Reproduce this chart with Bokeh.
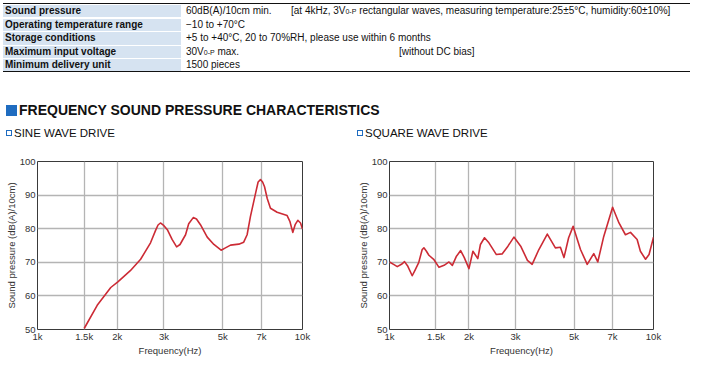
from bokeh.plotting import figure
from bokeh.models import Div, FixedTicker, Range1d, Label
from bokeh.layouts import column, row
from bokeh.embed import file_html
from bokeh.resources import INLINE

# ---------------- data ----------------
table_labels = ["Sound pressure", "Operating temperature range", "Storage conditions",
                "Maximum input voltage", "Minimum delivery unit"]
table_values = ["60dB(A)/10cm min.", "\u221210 to +70\u00b0C",
                "+5 to +40\u00b0C, 20 to 70%RH, please use within 6 months",
                "30V<span style='font-size:7px'>0-P</span> max.", "1500 pieces"]
table_notes = ["[at 4kHz, 3V<span style='font-size:7px'>0-P</span> rectangular waves, measuring temperature:25\u00b15\u00b0C, humidity:60\u00b110%]",
               "", "", "[without DC bias]", ""]

freq_ticks = [1000, 1500, 2000, 3000, 5000, 7000, 10000]
freq_tick_labels = ["1k", "1.5k", "2k", "3k", "5k", "7k", "10k"]
spl_ticks = [50, 60, 70, 80, 90, 100]

sine_freq = [1500, 1680, 1890, 2010, 2240, 2450, 2670, 2790, 2850, 2910, 3000, 3090, 3220, 3350,
             3450, 3620, 3720, 3870, 3980, 4120, 4370, 4630, 4930, 5120, 5350, 5750, 6000, 6180,
             6360, 6650, 6800, 6940, 7070, 7190, 7360, 7570, 8020, 8750, 8960, 9190, 9380, 9600,
             9830, 10000]
sine_spl = [50.3, 57.2, 62.5, 64.2, 67.5, 70.9, 75.8, 79.5, 81.1, 81.7, 80.9, 79.7, 76.8, 74.6,
            75.3, 78.2, 81.5, 83.3, 82.9, 81.2, 77.5, 75.3, 73.6, 74.3, 75.1, 75.4, 76.0, 78.2,
            83.6, 90.5, 93.9, 94.6, 93.9, 92.5, 89.0, 86.1, 84.9, 83.9, 82.2, 78.9, 81.2, 82.5,
            81.7, 79.9]

square_freq = [1000, 1040, 1070, 1110, 1140, 1170, 1219, 1250, 1290, 1330, 1350, 1380, 1410,
               1470, 1540, 1610, 1680, 1730, 1790, 1860, 1920, 2000, 2070, 2160, 2210, 2290,
               2380, 2540, 2670, 2810, 2960, 3140, 3330, 3470, 3680, 3960, 4250, 4440, 4580,
               4770, 4960, 5290, 5610, 5940, 6150, 6480, 7000, 7400, 7830, 8180, 8670, 8920,
               9330, 9620, 10000]
square_spl = [70.1, 69.3, 68.7, 69.4, 70.2, 69.0, 66.0, 67.7, 69.9, 73.8, 74.3, 73.3, 72.1,
              70.9, 68.5, 69.1, 70.1, 69.1, 71.7, 73.5, 71.4, 68.1, 73.3, 71.1, 75.3, 77.3,
              75.8, 72.3, 72.5, 74.8, 77.5, 74.8, 70.6, 69.4, 73.8, 78.4, 74.3, 74.5, 71.4,
              77.3, 80.7, 73.8, 69.4, 72.6, 70.1, 77.7, 86.4, 81.7, 78.2, 78.9, 76.8, 73.3,
              70.9, 72.3, 77.5]

FONT = "Liberation Sans"
BLUE = "#1f6cc0"

# ---------------- header / table (HTML) ----------------
ROW_H = 13.6
T0 = 4.0
parts = []
parts.append(f"<div style='position:relative;width:700px;height:140px;font-family:\"{FONT}\",Arial,sans-serif;color:#111;'>")
parts.append(f"<div style='position:absolute;left:3px;top:{T0 - 0.75}px;width:687px;height:0;border-top:1.5px solid #111;'></div>")
for i, (lab, val, note) in enumerate(zip(table_labels, table_values, table_notes)):
    top = T0 + i * ROW_H
    parts.append(f"<div style='position:absolute;left:3px;top:{top + 1:.1f}px;width:178px;height:{ROW_H - 1.2:.1f}px;background:#d6e3f1;'></div>")
    parts.append(f"<div style='position:absolute;left:5px;top:{top:.1f}px;line-height:{ROW_H}px;font-size:10px;font-weight:bold;white-space:nowrap;'>{lab}</div>")
    parts.append(f"<div style='position:absolute;left:186px;top:{top:.1f}px;line-height:{ROW_H}px;font-size:10px;white-space:nowrap;'>{val}</div>")
    if note:
        nx = 291 if i == 0 else 399
        parts.append(f"<div style='position:absolute;left:{nx}px;top:{top:.1f}px;line-height:{ROW_H}px;font-size:10px;white-space:nowrap;'>{note}</div>")
parts.append(f"<div style='position:absolute;left:3px;top:{T0 + 5 * ROW_H - 0.75:.1f}px;width:687px;height:0;border-top:1.5px solid #111;'></div>")
# section heading
parts.append(f"<div style='position:absolute;left:6px;top:105px;width:11px;height:11px;background:{BLUE};'></div>")
parts.append("<div style='position:absolute;left:19px;top:103px;line-height:14px;font-size:14px;font-weight:bold;white-space:nowrap;'>FREQUENCY SOUND PRESSURE CHARACTERISTICS</div>")
for x0, txt in [(6, "SINE WAVE DRIVE"), (357, "SQUARE WAVE DRIVE")]:
    parts.append(f"<div style='position:absolute;left:{x0}px;top:130px;width:6px;height:6px;border:1px solid {BLUE};'></div>")
    parts.append(f"<div style='position:absolute;left:{x0 + 8}px;top:127px;line-height:12px;font-size:11.5px;white-space:nowrap;'>{txt}</div>")
parts.append("</div>")
header = Div(text="".join(parts), width=700, height=140, margin=(0, 0, 0, 0))


# ---------------- charts ----------------
def make_fig(freq, spl, note, w, bl, br):
    p = figure(width=w, height=218, x_axis_type="log",
               x_range=Range1d(1000, 10000), y_range=Range1d(50, 100),
               output_backend="svg", toolbar_location=None,
               min_border_left=bl, min_border_right=br, min_border_top=21, min_border_bottom=27)
    p.outline_line_color = "#3a3a3a"
    p.outline_line_width = 1
    p.background_fill_color = "white"
    p.border_fill_color = "white"

    p.xaxis.ticker = FixedTicker(ticks=freq_ticks)
    p.xaxis.major_label_overrides = {t: l for t, l in zip(freq_ticks, freq_tick_labels)}
    p.yaxis.ticker = FixedTicker(ticks=spl_ticks)
    for ax in (p.xaxis, p.yaxis):
        ax.axis_line_color = None
        ax.major_tick_line_color = None
        ax.minor_tick_line_color = None
        ax.major_tick_in = 0
        ax.major_tick_out = 0
        ax.major_label_text_font = FONT
        ax.major_label_text_font_size = "9.5px"
        ax.major_label_text_color = "#333333"
        ax.axis_label_text_font = FONT
        ax.axis_label_text_font_size = "9.5px"
        ax.axis_label_text_font_style = "normal"
        ax.axis_label_text_color = "#333333"
        ax.major_label_standoff = 1
        ax.axis_label_standoff = 0
    p.xaxis.axis_label = "Frequency(Hz)"
    p.yaxis.axis_label = "Sound pressure (dB(A)/10cm)"
    p.yaxis.major_label_standoff = 2
    p.grid.grid_line_color = "#b4b4b4"
    p.grid.grid_line_width = 1.3
    p.xgrid.minor_grid_line_color = None

    p.line(freq, spl, line_color="#cc2b35", line_width=1.6, line_join="round")
    p.add_layout(Label(x=freq_ticks[-1], y=spl_ticks[-1], text=note, text_align="right",
                       text_baseline="bottom", y_offset=2, text_font=FONT,
                       text_font_size="9.5px", text_color="#333333"))
    return p


p1 = make_fig(sine_freq, sine_spl, "at.3Vrms, sine wave.", 345, 37, 43)
p2 = make_fig(square_freq, square_spl, "at.3V0-P, square wave.", 363, 44, 55)

layout = column(header, row(p1, p2))

open("out.html", "w").write(file_html(layout, INLINE))
